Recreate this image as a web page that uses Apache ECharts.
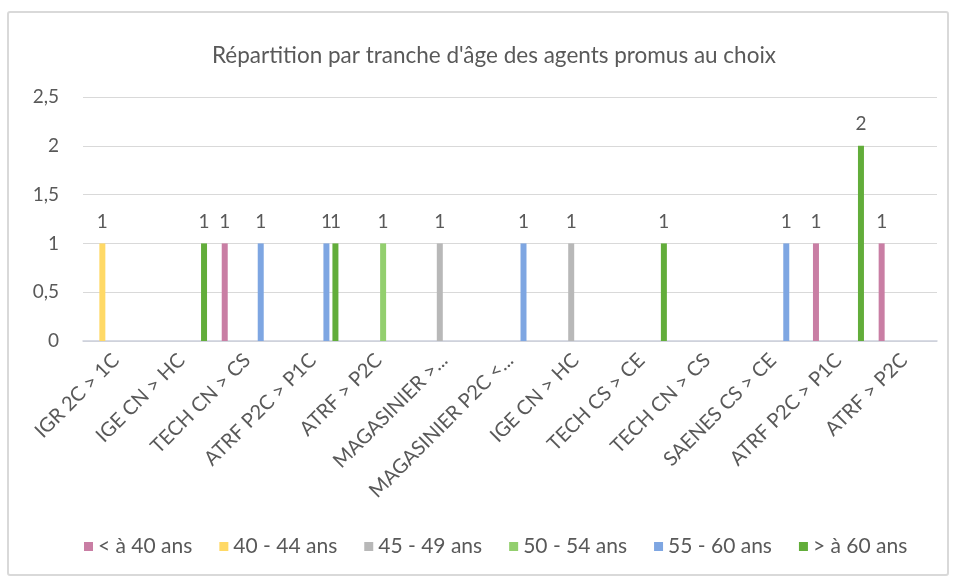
<!DOCTYPE html>
<html>
<head>
<meta charset="utf-8">
<script src="https://cdn.jsdelivr.net/npm/echarts@6/dist/echarts.min.js"></script>
<style>
  html, body { margin: 0; padding: 0; background: #ffffff; }
  #chart { width: 963px; height: 582px; }
</style>
</head>
<body>
<div id="chart"></div>
<script>
// Grades promoted "au choix"
const categories = [
  'IGR 2C > 1C', 'IGE CN > HC', 'TECH CN > CS', 'ATRF P2C > P1C', 'ATRF > P2C',
  'MAGASINIER >...', 'MAGASINIER P2C <...', 'IGE CN > HC', 'TECH CS > CE',
  'TECH CN > CS', 'SAENES CS > CE', 'ATRF P2C > P1C', 'ATRF > P2C'
];

// Age bands
const seriesNames = ['< à 40 ans', '40 - 44 ans', '45 - 49 ans', '50 - 54 ans', '55 - 60 ans', '> à 60 ans'];

// Number of promoted agents per grade, one array per age band (null = none)
const under40   = [null, null, 1, null, null, null, null, null, null, null, null, 1, 1];
const age40to44 = [1, null, null, null, null, null, null, null, null, null, null, null, null];
const age45to49 = [null, null, null, null, null, 1, null, 1, null, null, null, null, null];
const age50to54 = [null, null, null, null, 1, null, null, null, null, null, null, null, null];
const age55to60 = [null, null, 1, 1, null, null, 1, null, null, null, 1, null, null];
const over60    = [null, 1, null, 1, null, null, null, null, 1, null, null, 2, null];

const yTicks = { min: 0, max: 2.5, interval: 0.5 };

const colors = ['#c97ea4', '#ffd966', '#b8b8b8', '#93cf6e', '#7ea6e2', '#62ad3a'];
const values = [under40, age40to44, age45to49, age50to54, age55to60, over60];

const FONT = 'Lato, "Noto Sans", sans-serif';
const TXT = '#595959';

const chart = echarts.init(document.getElementById('chart'), null, { renderer: 'canvas' });

chart.setOption({
  backgroundColor: '#ffffff',
  animation: false,
  color: colors,
  textStyle: { fontFamily: FONT },
  graphic: [{
    type: 'rect',
    shape: { x: 8, y: 12, width: 940, height: 563, r: 2 },
    style: { fill: 'none', stroke: '#d9d9d9', lineWidth: 2 },
    silent: true
  }],
  title: {
    text: "Répartition par tranche d'âge des agents promus au choix",
    left: 489,
    textAlign: 'center',
    top: 39,
    textStyle: { color: TXT, fontSize: 22.5, fontWeight: 'normal', fontFamily: FONT }
  },
  legend: {
    data: seriesNames,
    bottom: 20,
    left: 79,
    itemWidth: 9,
    itemHeight: 9,
    itemGap: 27,
    icon: 'rect',
    textStyle: { color: TXT, fontSize: 21, fontFamily: FONT }
  },
  grid: { left: 83, right: 26, top: 97, height: 244, containLabel: false },
  xAxis: {
    type: 'category',
    data: categories,
    axisLine: { lineStyle: { color: '#ccd0dc', width: 1.5 } },
    axisTick: { show: false },
    axisLabel: {
      interval: 0,
      rotate: 45,
      color: TXT,
      fontSize: 20,
      margin: 16,
      fontFamily: FONT
    }
  },
  yAxis: {
    type: 'value',
    min: yTicks.min,
    max: yTicks.max,
    interval: yTicks.interval,
    axisLine: { show: false },
    axisTick: { show: false },
    splitLine: { lineStyle: { color: '#d9d9d9', width: 1.2 } },
    axisLabel: {
      color: TXT,
      fontSize: 19,
      margin: 24,
      fontFamily: FONT,
      formatter: v => String(v).replace('.', ',')
    }
  },
  series: seriesNames.map((name, i) => ({
    name,
    type: 'bar',
    data: values[i],
    barWidth: 6,
    barGap: '50%',
    itemStyle: { color: colors[i] },
    label: {
      show: true,
      position: 'top',
      distance: 12,
      color: TXT,
      fontSize: 19,
      fontFamily: FONT,
      formatter: p => (p.value == null ? '' : String(p.value))
    }
  }))
});
</script>
</body>
</html>
